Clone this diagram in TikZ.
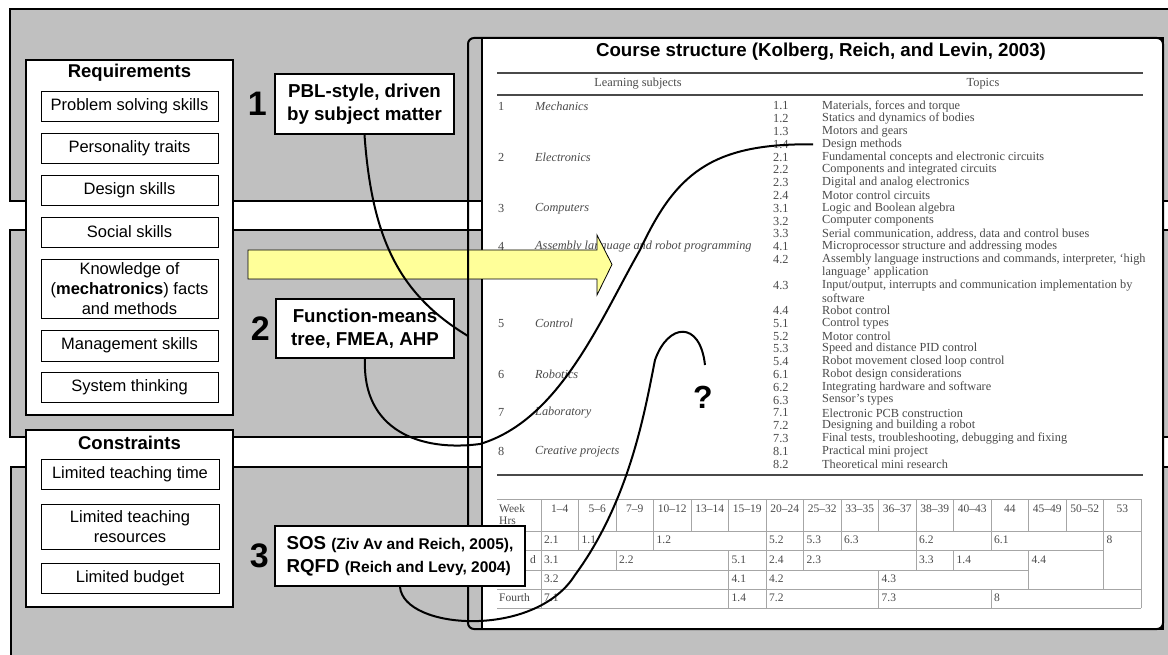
\documentclass[tikz,border=0pt]{standalone}
\usepackage{fontspec}
\setmainfont{Liberation Sans}
\newfontfamily\scanfont{Liberation Serif}
\usetikzlibrary{positioning}
\definecolor{panelgray}{HTML}{C0C0C0}
\definecolor{arrowyellow}{HTML}{FFFF99}
\definecolor{scangray}{HTML}{4A4A4A}

\begin{document}
\begin{tikzpicture}[x=1pt,y=-1pt,
  panel/.style={fill=panelgray,draw=black,line width=2pt},
  group/.style={draw,fill=white,line width=2pt,minimum width=207pt,inner sep=0pt},
  grouptitle/.style={font=\bfseries\fontsize{18.5}{22}\selectfont,inner sep=0pt},
  item/.style={draw,fill=white,line width=0.9pt,minimum width=177pt,minimum height=30pt,inner sep=0pt,align=center,font=\fontsize{16.5}{20}\selectfont},
  method/.style={draw,fill=white,line width=2pt,align=center,inner sep=0pt,font=\bfseries\fontsize{18.7}{23}\selectfont},
  num/.style={font=\bfseries\fontsize{34}{34}\selectfont,inner sep=0pt},
  scan/.style={anchor=west,inner sep=0pt,text=scangray,font=\scanfont\fontsize{12.3}{12.3}\selectfont},
  cell/.style={anchor=west,inner sep=0pt,text=scangray,font=\scanfont\fontsize{11.5}{11.5}\selectfont},
  hrule/.style={draw=scangray,line width=1.6pt},
  tablegrid/.style={draw=gray!70,line width=0.8pt},
  link/.style={line width=2pt}]

\useasboundingbox (0,0) rectangle (1168,655);
\fill[white] (0,0) rectangle (1168,655);

% panels
\draw[panel] (10,9) rectangle (1180,201);
\draw[panel] (10,230) rectangle (1180,437);
\draw[panel] (11,467) rectangle (1180,670);

% the course page
\draw[fill=white,line width=2.5pt] (482,38) rectangle (1163,629);
\node[inner sep=0pt,font=\bfseries\fontsize{18.7}{22}\selectfont] (title) at (821,52) {Course structure (Kolberg, Reich, and Levin, 2003)};
\draw[hrule] (497,73) -- (1143,73);
\draw[hrule] (497,95) -- (1143,95);
\draw[hrule] (497,475) -- (1143,475);
\node[scan,anchor=center] (hsubj) at (638,84) {Learning subjects};
\node[scan,anchor=center] (htopic) at (983,84) {Topics};

\foreach \k/\m/\s in {0/1/Mechanics,4/2/Electronics,8/3/Computers,11/4/Assembly language and robot programming,17/5/Control,21/6/Robotics,24/7/Laboratory,27/8/Creative projects}{
  \node[scan] (sn\m) at (498,106+12.79*\k) {\m};
  \node[scan,font=\scanfont\itshape\fontsize{12.3}{12.3}\selectfont] (sb\m) at (535,106+12.79*\k) {\s};
}

\foreach \n/\t [count=\i from 0] in {1.1/{Materials, forces and torque},1.2/{Statics and dynamics of bodies},1.3/{Motors and gears},1.4/{Design methods},
  2.1/{Fundamental concepts and electronic circuits},2.2/{Components and integrated circuits},2.3/{Digital and analog electronics},2.4/{Motor control circuits},
  3.1/{Logic and Boolean algebra},3.2/{Computer components},3.3/{Serial communication, address, data and control buses},
  4.1/{Microprocessor structure and addressing modes},4.2/{Assembly language instructions and commands, interpreter, ‘high},/{language’ application},
  4.3/{Input/output, interrupts and communication implementation by},/{software},4.4/{Robot control},
  5.1/{Control types},5.2/{Motor control},5.3/{Speed and distance PID control},5.4/{Robot movement closed loop control},
  6.1/{Robot design considerations},6.2/{Integrating hardware and software},6.3/{Sensor’s types},
  7.1/{Electronic PCB construction},7.2/{Designing and building a robot},7.3/{Final tests, troubleshooting, debugging and fixing},
  8.1/{Practical mini project},8.2/{Theoretical mini research}}{
  \node[scan] (tn\i) at (773,106+12.79*\i) {\n};
  \node[scan] (tt\i) at (822,106+12.79*\i) {\t};
}

% schedule
\draw[tablegrid] (497,499) -- (1141,499);
\draw[tablegrid] (497,531) -- (1141,531);
\draw[tablegrid] (497,550) -- (1104,550);
\draw[tablegrid] (497,570) -- (1029,570);
\draw[tablegrid] (497,589) -- (1141,589);
\draw[tablegrid] (497,608) -- (1141,608);
\draw[tablegrid] (541,499) -- (541,608);
\draw[tablegrid] (1141,499) -- (1141,608);
\foreach \i in {1,...,15} \draw[tablegrid] (541+37.5*\i,499) -- (541+37.5*\i,531);
\foreach \i in {1,3,6,7,8,10,12,15} \draw[tablegrid] (541+37.5*\i,531) -- (541+37.5*\i,550);
\foreach \i in {2,5,6,7,10,11,13,15} \draw[tablegrid] (541+37.5*\i,550) -- (541+37.5*\i,570);
\foreach \i in {5,6,9,13,15} \draw[tablegrid] (541+37.5*\i,570) -- (541+37.5*\i,589);
\foreach \i in {5,6,9,12} \draw[tablegrid] (541+37.5*\i,589) -- (541+37.5*\i,608);

\node[cell] (week) at (499,509) {Week};
\node[cell] (hrs) at (499,521) {Hrs};
\foreach \w [count=\i from 0] in {1–4,5–6,7–9,10–12,13–14,15–19,20–24,25–32,33–35,36–37,38–39,40–43,44,45–49,50–52,53}
  \node[cell,anchor=center] (wk\i) at (559.75+37.5*\i,509) {\w};
\node[cell,anchor=east] (rowtwo) at (536,560) {d};
\node[cell] (rowfour) at (499,598) {Fourth};
\foreach \i/\v in {0/2.1,1/1.1,3/1.2,6/5.2,7/5.3,8/6.3,10/6.2,12/6.1,15/8}
  \node[cell] (ca\i) at (544+37.5*\i,540) {\v};
\foreach \i/\v in {0/3.1,2/2.2,5/5.1,6/2.4,7/2.3,10/3.3,11/1.4,13/4.4}
  \node[cell] (cb\i) at (544+37.5*\i,560) {\v};
\foreach \i/\v in {0/3.2,5/4.1,6/4.2,9/4.3}
  \node[cell] (cc\i) at (544+37.5*\i,579) {\v};
\foreach \i/\v in {0/7.1,5/1.4,6/7.2,9/7.3,12/8}
  \node[cell] (cd\i) at (544+37.5*\i,598) {\v};

% big arrow and frame
\draw[fill=arrowyellow,line width=0.8pt] (248,250) -- (597,250) -- (597,235) -- (612,264.5) -- (597,295) -- (597,279) -- (248,279) -- cycle;
\draw[line width=2pt,rounded corners=6pt] (468,38) rectangle (1163,629);

% requirements and constraints
\node[group,minimum height=355pt] (req) at (129.5,237.5) {};
\node[grouptitle] (reqtitle) at (129.5,73) {Requirements};
\node[item] (r1) at (129.5,106) {Problem solving skills};
\node[item] (r2) at (129.5,148) {Personality traits};
\node[item] (r3) at (129.5,190) {Design skills};
\node[item] (r4) at (129.5,232) {Social skills};
\node[item,minimum height=59pt] (r5) at (129.5,288.5) {Knowledge of\\(\textbf{mechatronics}) facts\\and methods};
\node[item,minimum height=31pt] (r6) at (129.5,345.5) {Management skills};
\node[item] (r7) at (129.5,387) {System thinking};

\node[group,minimum height=177pt] (con) at (129.5,518.5) {};
\node[grouptitle] (contitle) at (129.5,443) {Constraints};
\node[item,minimum width=178pt] (c1) at (130,474) {Limited teaching time};
\node[item,minimum width=178pt,minimum height=45pt] (c2) at (130,526.5) {Limited teaching\\resources};
\node[item,minimum width=178pt] (c3) at (130,578) {Limited budget};

% methods
\node[method,minimum width=179pt,minimum height=60pt] (pbl) at (364.5,104) {PBL-style, driven\\by subject matter};
\node[method,minimum width=178pt,minimum height=59pt] (fm) at (365,328.5) {Function-means\\tree, FMEA, AHP};
\node[method,minimum width=250pt,minimum height=60pt,align=left] (sos) at (400,556) {SOS {\fontsize{15.5}{23}\selectfont(Ziv Av and Reich, 2005),}\\RQFD {\fontsize{15.5}{23}\selectfont(Reich and Levy, 2004)}};
\node[num,left=7pt of pbl] (lab1) {1};
\node[num,left=5pt of fm] (lab2) {2};
\node[num,left=5pt of sos] (lab3) {3};
\node[num,font=\bfseries\fontsize{32}{32}\selectfont] (q) at (703,397) {?};

\coordinate (frame1) at (468,336);
\coordinate (hook) at (705,365);
\draw[link] (pbl.south) .. controls (372,240) and (400,295) .. (frame1);
\draw[link] (fm.south) .. controls (362,430) and (420,452) .. (480,444) .. controls (560,420) and (600,320) .. (640,250) .. controls (675,175) and (710,143) .. ([xshift=-9pt]tt3.west);
\draw[link] (sos.south) .. controls (404,630) and (535,639) .. (575,575) .. controls (630,500) and (645,410) .. (655,360) .. controls (668,323) and (700,320) .. (hook);

\end{tikzpicture}
\end{document}
